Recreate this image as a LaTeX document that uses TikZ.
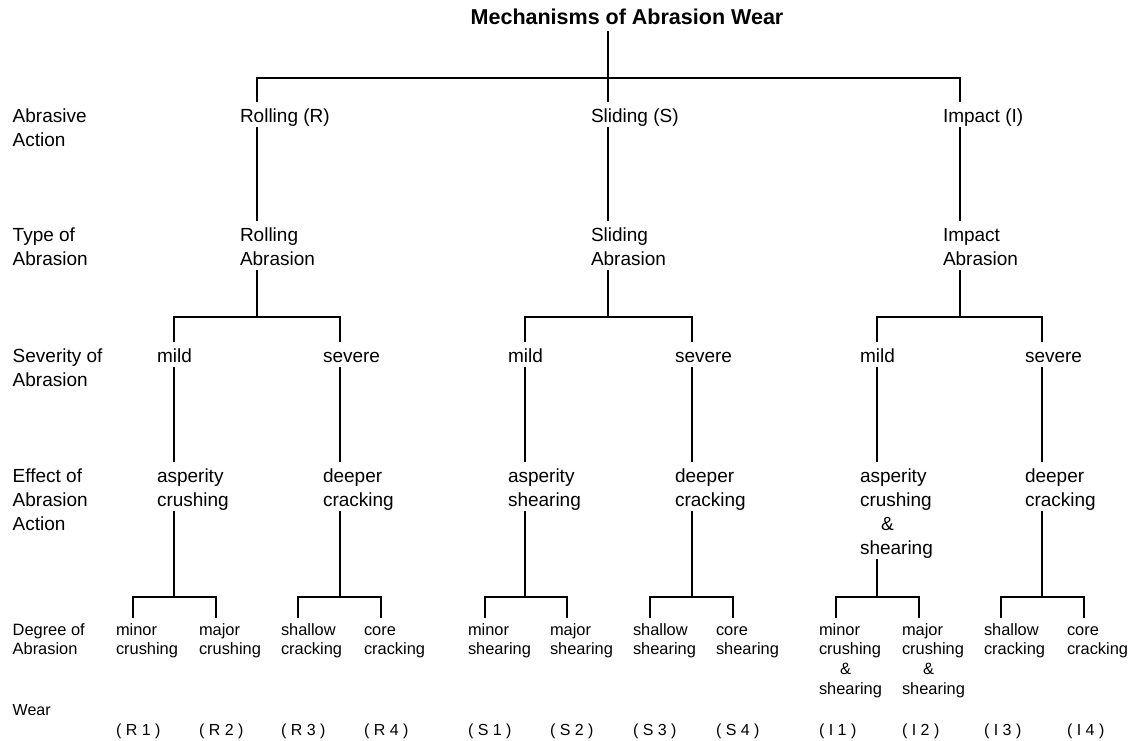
\documentclass[tikz,border=0pt]{standalone}
\usepackage{fontspec}
\setmainfont{Liberation Sans}
\newcommand\Tb{\rule{0pt}{20pt}}
\newcommand\Bb{\rule[-5pt]{0pt}{5pt}}
\newcommand\Ts{\rule{0pt}{17pt}}
\tikzset{
  lnk/.style={line width=2pt, line join=miter},
  txt/.style={inner sep=0pt, outer sep=0pt, anchor=north west, align=left,
              font=\fontsize{19}{24}\selectfont},
  stxt/.style={txt, font=\fontsize{16.4}{19.7}\selectfont},
  wtxt/.style={inner sep=0pt, outer sep=0pt, anchor=base west,
              font=\fontsize{16}{19.7}\selectfont},
}
\begin{document}
\begin{tikzpicture}[x=1pt,y=-1pt]
\useasboundingbox (0,0) rectangle (1133,740);
% column coordinates
\coordinate (cR) at (257,0);  \coordinate (cS) at (608,0);  \coordinate (cI) at (960,0);
\coordinate (cRm) at (174,0); \coordinate (cRs) at (340,0);
\coordinate (cSm) at (525,0); \coordinate (cSs) at (692,0);
\coordinate (cIm) at (877,0); \coordinate (cIs) at (1042,0);
\coordinate (cR1) at (133,0); \coordinate (cR2) at (216,0); \coordinate (cR3) at (298,0); \coordinate (cR4) at (381,0);
\coordinate (cS1) at (485,0); \coordinate (cS2) at (567,0); \coordinate (cS3) at (650,0); \coordinate (cS4) at (733,0);
\coordinate (cI1) at (836,0); \coordinate (cI2) at (919,0); \coordinate (cI3) at (1001,0); \coordinate (cI4) at (1084,0);
\coordinate (b1) at (0,78); \coordinate (b3) at (0,317); \coordinate (b5) at (0,597);

% title
\node[inner sep=0pt, anchor=base, text depth=6.5pt, font=\bfseries\fontsize{21.5}{26}\selectfont] (title) at (627,24.5) {Mechanisms of Abrasion Wear};

% left labels
\node[txt] (lA) at (12.7,102) {\Tb Abrasive\\Action};
\node[txt] (lB) at (12.7,221) {\Tb Type of\\Abrasion};
\node[txt] (lC) at (12.7,342) {\Tb Severity of\\Abrasion};
\node[txt] (lD) at (12.7,462) {\Tb Effect of\\Abrasion\\Action};
\node[stxt] (lE) at (12.7,618) {\Ts Degree of\\Abrasion};
\node[wtxt] (lF) at (12.7,715) {Wear};

% row 1
\node[txt] (rA) at (240,102) {\Tb Rolling (R)\Bb};
\node[txt] (sA) at (591,102) {\Tb Sliding (S)\Bb};
\node[txt] (iA) at (943,102) {\Tb Impact (I)\Bb};
% row 2
\node[txt] (rB) at (240,221) {\Tb Rolling\\Abrasion\Bb};
\node[txt] (sB) at (591,221) {\Tb Sliding\\Abrasion\Bb};
\node[txt] (iB) at (943,221) {\Tb Impact\\Abrasion\Bb};
% row 3
\node[txt] (rM) at (157,342) {\Tb mild\Bb};
\node[txt] (rS) at (323,342) {\Tb severe\Bb};
\node[txt] (sM) at (508,342) {\Tb mild\Bb};
\node[txt] (sS) at (675,342) {\Tb severe\Bb};
\node[txt] (iM) at (860,342) {\Tb mild\Bb};
\node[txt] (iS) at (1025,342) {\Tb severe\Bb};
% row 4
\node[txt] (rME) at (157,462) {\Tb asperity\\crushing\Bb};
\node[txt] (rSE) at (323,462) {\Tb deeper\\cracking\Bb};
\node[txt] (sME) at (508,462) {\Tb asperity\\shearing\Bb};
\node[txt] (sSE) at (675,462) {\Tb deeper\\cracking\Bb};
\node[txt] (iME) at (860,462) {\Tb asperity\\crushing\\\hspace*{21pt}\&\\shearing\Bb};
\node[txt] (iSE) at (1025,462) {\Tb deeper\\cracking\Bb};
% row 5
\node[stxt] (r1) at (116,618) {\Ts minor\\crushing};
\node[stxt] (r2) at (199,618) {\Ts major\\crushing};
\node[stxt] (r3) at (281,618) {\Ts shallow\\cracking};
\node[stxt] (r4) at (364,618) {\Ts core\\cracking};
\node[stxt] (s1) at (468,618) {\Ts minor\\shearing};
\node[stxt] (s2) at (550,618) {\Ts major\\shearing};
\node[stxt] (s3) at (633,618) {\Ts shallow\\shearing};
\node[stxt] (s4) at (716,618) {\Ts core\\shearing};
\node[stxt] (i1) at (819,618) {\Ts minor\\crushing\\\hspace*{21pt}\&\\shearing};
\node[stxt] (i2) at (902,618) {\Ts major\\crushing\\\hspace*{21pt}\&\\shearing};
\node[stxt] (i3) at (984,618) {\Ts shallow\\cracking};
\node[stxt] (i4) at (1067,618) {\Ts core\\cracking};
% wear codes
\node[wtxt] (wr1) at (116,735) {( R 1 )};
\node[wtxt] (wr2) at (199,735) {( R 2 )};
\node[wtxt] (wr3) at (281,735) {( R 3 )};
\node[wtxt] (wr4) at (364,735) {( R 4 )};
\node[wtxt] (ws1) at (468,735) {( S 1 )};
\node[wtxt] (ws2) at (550,735) {( S 2 )};
\node[wtxt] (ws3) at (633,735) {( S 3 )};
\node[wtxt] (ws4) at (716,735) {( S 4 )};
\node[wtxt] (wi1) at (819,735) {( I 1 )};
\node[wtxt] (wi2) at (902,735) {( I 2 )};
\node[wtxt] (wi3) at (984,735) {( I 3 )};
\node[wtxt] (wi4) at (1067,735) {( I 4 )};

% connectors: top level
\draw[lnk] (title.south -| cS) -- (sA.north -| cS);
\draw[lnk] (rA.north -| cR) |- (b1 -| cI) -- (iA.north -| cI);
% rolling
\draw[lnk] (rA.south -| cR) -- (rB.north -| cR);
\draw[lnk] (rB.south -| cR) -- (b3 -| cR);
\draw[lnk] (rM.north -| cRm) |- (b3 -| cRs) -- (rS.north -| cRs);
\draw[lnk] (rM.south -| cRm) -- (rME.north -| cRm);
\draw[lnk] (rS.south -| cRs) -- (rSE.north -| cRs);
\draw[lnk] (rME.south -| cRm) -- (b5 -| cRm);
\draw[lnk] (rSE.south -| cRs) -- (b5 -| cRs);
\draw[lnk] (r1.north -| cR1) |- (b5 -| cR2) -- (r2.north -| cR2);
\draw[lnk] (r3.north -| cR3) |- (b5 -| cR4) -- (r4.north -| cR4);
% sliding
\draw[lnk] (sA.south -| cS) -- (sB.north -| cS);
\draw[lnk] (sB.south -| cS) -- (b3 -| cS);
\draw[lnk] (sM.north -| cSm) |- (b3 -| cSs) -- (sS.north -| cSs);
\draw[lnk] (sM.south -| cSm) -- (sME.north -| cSm);
\draw[lnk] (sS.south -| cSs) -- (sSE.north -| cSs);
\draw[lnk] (sME.south -| cSm) -- (b5 -| cSm);
\draw[lnk] (sSE.south -| cSs) -- (b5 -| cSs);
\draw[lnk] (s1.north -| cS1) |- (b5 -| cS2) -- (s2.north -| cS2);
\draw[lnk] (s3.north -| cS3) |- (b5 -| cS4) -- (s4.north -| cS4);
% impact
\draw[lnk] (iA.south -| cI) -- (iB.north -| cI);
\draw[lnk] (iB.south -| cI) -- (b3 -| cI);
\draw[lnk] (iM.north -| cIm) |- (b3 -| cIs) -- (iS.north -| cIs);
\draw[lnk] (iM.south -| cIm) -- (iME.north -| cIm);
\draw[lnk] (iS.south -| cIs) -- (iSE.north -| cIs);
\draw[lnk] (iME.south -| cIm) -- (b5 -| cIm);
\draw[lnk] (iSE.south -| cIs) -- (b5 -| cIs);
\draw[lnk] (i1.north -| cI1) |- (b5 -| cI2) -- (i2.north -| cI2);
\draw[lnk] (i3.north -| cI3) |- (b5 -| cI4) -- (i4.north -| cI4);
\end{tikzpicture}
\end{document}
